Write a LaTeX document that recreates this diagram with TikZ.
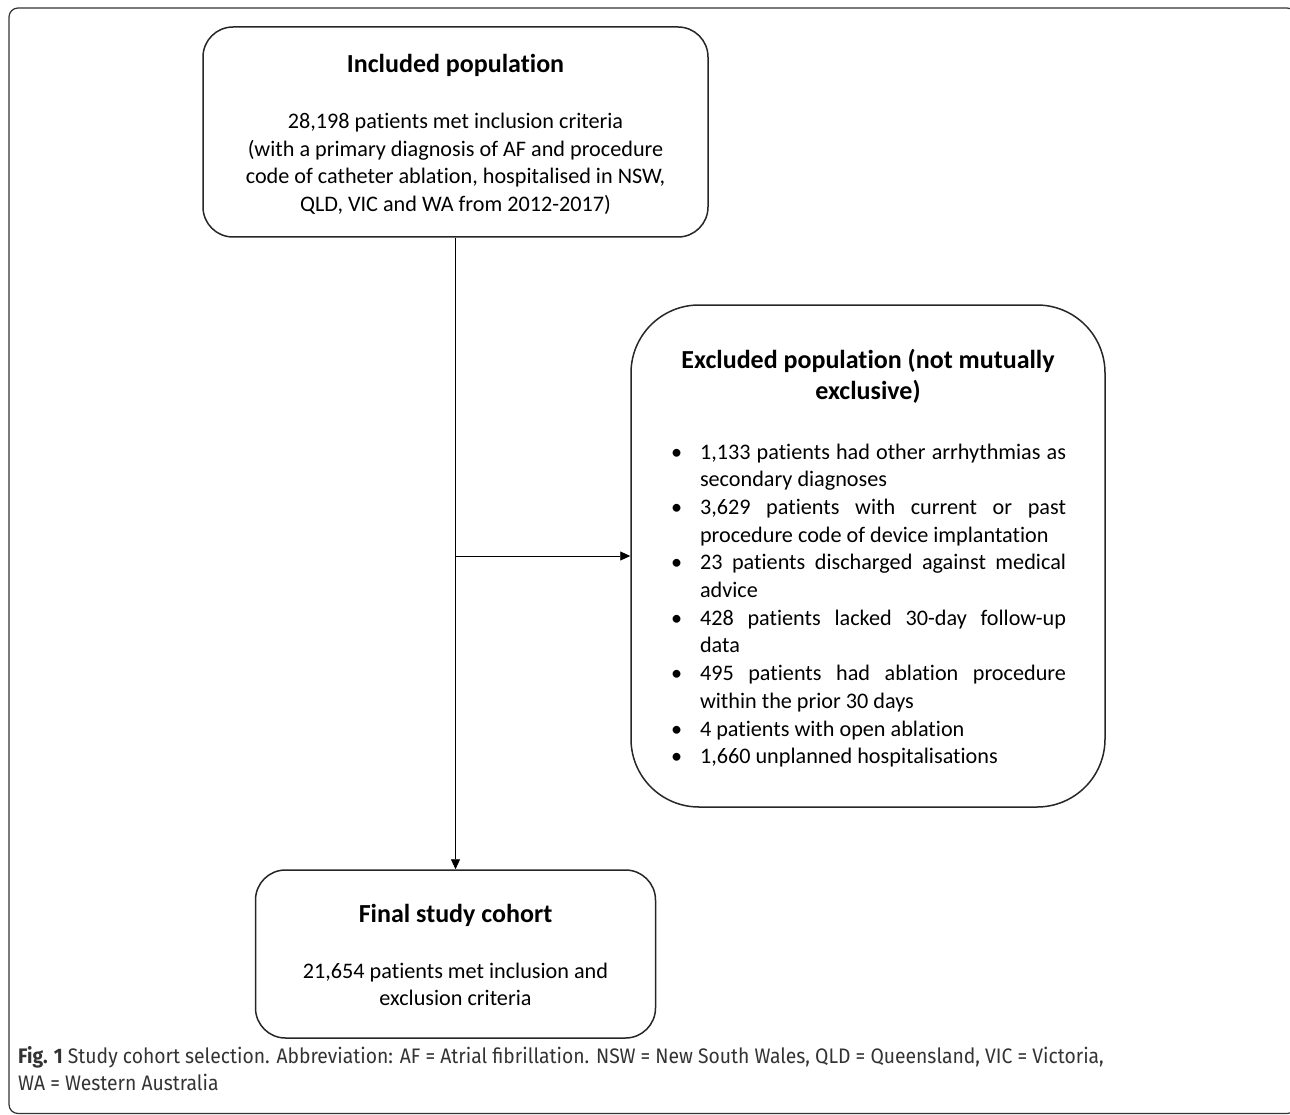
\documentclass[tikz,border=0pt]{standalone}
\usepackage{fontspec}
\setmainfont{Carlito}[Ligatures=NoCommon]
\newfontfamily\capfont{Fira Sans}[FakeStretch=0.92]
\usetikzlibrary{arrows.meta}
\newcommand{\myexitem}[1]{\hangindent=30pt\hangafter=1\noindent\makebox[30pt][l]{\hspace{1pt}\textbullet}#1\par}
\newcommand{\myexlist}{%
  \begin{minipage}[t]{396pt}\fontsize{22.2}{27.7}\selectfont
  \myexitem{1,133 patients had other arrhythmias as\linebreak secondary diagnoses}
  \myexitem{3,629 patients with current or past\linebreak procedure code of device implantation}
  \myexitem{23 patients discharged against medical\linebreak advice}
  \myexitem{428 patients lacked 30-day follow-up\linebreak data}
  \myexitem{495 patients had ablation procedure\linebreak within the prior 30 days}
  \myexitem{4 patients with open ablation}
  \myexitem{1,660 unplanned hospitalisations}
  \end{minipage}}
\begin{document}
\begin{tikzpicture}[x=1pt,y=-1pt,
  box/.style={draw=black!85, line width=1.5pt, align=center, inner sep=0pt,
    font=\fontsize{22.2}{27.5}\selectfont},
  ttl/.style={align=center, inner sep=0pt, font=\bfseries\fontsize{26}{31}\selectfont},
  conn/.style={draw=black, line width=0.9pt},
  arr/.style={conn, -{Triangle[length=10pt,width=9pt]}},
  capt/.style={anchor=base west, inner sep=0pt, font=\capfont\fontsize{21}{24}\selectfont, text=black!80}
]
\useasboundingbox (0,0) rectangle (1290,1115);
\clip (0,0) rectangle (1290,1115);
\draw[black!80, line width=1.2pt, rounded corners=9pt] (9,8) rectangle (1296,1113.5);

\node[box, minimum width=505, minimum height=210, rounded corners=30pt] (inc) at (455.5,132) {};
\node[ttl] (inct) at (455.5,65) {Included population};
\node[box, draw=none] (incb) at (455.5,164)
 {28,198 patients met inclusion criteria\\
  (with a primary diagnosis of AF and procedure\\
  code of catheter ablation, hospitalised in NSW,\\
  QLD, VIC and WA from 2012-2017)};

\node[box, minimum width=474, minimum height=502, rounded corners=68pt] (exc) at (868,556) {};
\node[ttl] (exct) at (868,376.5) {Excluded population (not mutually\\ exclusive)};
\node[inner sep=0pt, anchor=base] (excl) at (868,459) {\myexlist};

\node[box, minimum width=400, minimum height=168, rounded corners=30pt] (fin) at (455.5,954) {};
\node[ttl] (fint) at (455.5,915) {Final study cohort};
\node[box, draw=none] (finb) at (455.5,984.5)
 {21,654 patients met inclusion and\\ exclusion criteria};

\draw[arr] (inc.south) -- (fin.north);
\coordinate (br) at (inc.south |- exc.west);
\draw[arr] (br) -- (exc.west);

\node[capt] (cap1) at (18,1063) {\textbf{Fig. 1} Study cohort selection. Abbreviation: AF = Atrial fibrillation. NSW = New South Wales, QLD = Queensland, VIC = Victoria,};
\node[capt] (cap2) at (18,1090) {WA = Western Australia};
\end{tikzpicture}
\end{document}
